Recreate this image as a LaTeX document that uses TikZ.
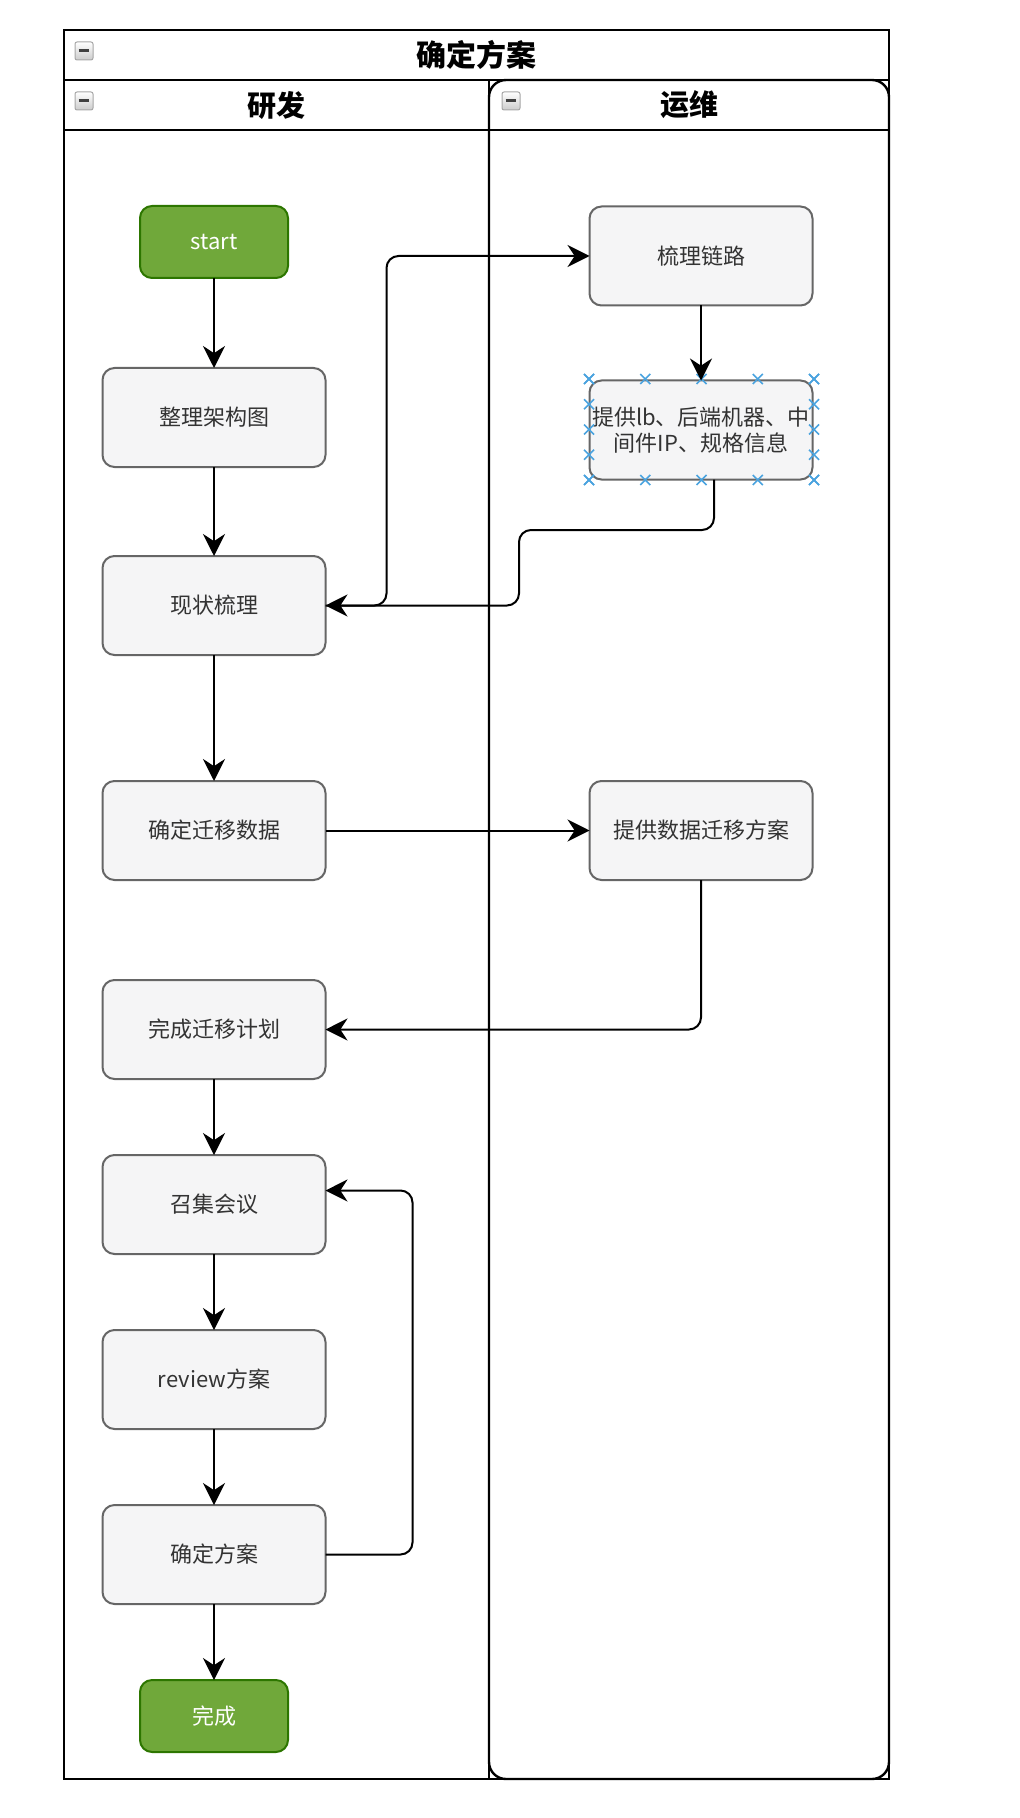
\documentclass[tikz,border=0pt]{standalone}
\usepackage{fontspec}
\setmainfont{Noto Sans CJK SC}
\usetikzlibrary{arrows.meta, positioning}
\definecolor{boxgray}{RGB}{245,245,246}
\definecolor{edgegray}{RGB}{102,102,102}
\definecolor{textgray}{RGB}{51,51,51}
\definecolor{startgreen}{RGB}{112,168,58}
\definecolor{startdark}{RGB}{45,118,0}
\definecolor{selblue}{RGB}{74,163,223}

\begin{document}
\begin{tikzpicture}[x=0.5pt, y=-0.5pt, node distance=45pt,
    task/.style={draw=edgegray, line width=1pt, rounded corners=6pt, fill=boxgray,
                 minimum width=111.5pt, minimum height=49.5pt, align=center,
                 inner sep=1pt, outer sep=0pt, text=textgray,
                 font=\fontsize{11}{13}\selectfont},
    term/.style={draw=startdark, line width=1pt, rounded corners=6pt, fill=startgreen,
                 minimum width=74pt, minimum height=36pt, outer sep=0pt, text=white,
                 font=\fontsize{11}{13}\selectfont},
    arr/.style={-{Stealth[length=11pt, width=11pt]}, line width=1pt, rounded corners=6pt},
    lane/.style={line width=1.2pt},
    hdr/.style={font=\fontsize{14.5}{16}\selectfont\bfseries},
    mini/.style={draw=gray!70, line width=0.5pt, rounded corners=1pt,
                 top color=white, bottom color=gray!40,
                 minimum size=9pt, inner sep=0pt,
                 path picture={\draw[line width=1.5pt, black!75]
                   ([xshift=1.8pt]path picture bounding box.west) --
                   ([xshift=-1.8pt]path picture bounding box.east);}}]
    \useasboundingbox (0,0) rectangle (1020,1818);

    \draw[lane] (64,30) rectangle (889,1779);
    \draw[lane] (64,80) -- (889,80);
    \draw[lane] (64,130) -- (889,130);
    \draw[lane] (489,80) -- (489,1779);
    \draw[lane, rounded corners=8.5pt] (489,80) rectangle (889,1779);

    \node[font=\fontsize{15}{17}\selectfont\bfseries] (pool) at (476,55) {确定方案};
    \node[hdr] (dev) at (276,105) {研发};
    \node[hdr] (ops) at (689,105) {运维};
    \node[mini] (m1) at (84,51) {};
    \node[mini] (m2) at (84,101) {};
    \node[mini] (m3) at (511,101) {};

    \node[term] (start) at (214,242) {start};
    \node[task, below=of start] (arch) {整理架构图};
    \node[task, below=44.5pt of arch] (cur) {现状梳理};
    \node[task, below=63pt of cur] (mig) {确定迁移数据};
    \node[task, below=50pt of mig] (sched) {完成迁移计划};
    \node[task, below=38pt of sched] (meet) {召集会议};
    \node[task, below=38pt of meet] (rev) {review方案};
    \node[task, below=38pt of rev] (conf) {确定方案};
    \node[term, below=38pt of conf] (fin) {完成};

    \node[task] (link) at (701,256) {梳理链路};
    \node[task, below=37.5pt of link] (info) {提供lb、后端机器、中\\间件IP、规格信息};
    \node[task, right=132pt of mig] (plan) {提供数据迁移方案};

    \foreach \i in {0,...,4} {
      \foreach \p in {(589+56.25*\i,379), (589+56.25*\i,480),
                      (589,379+25.25*\i), (814,379+25.25*\i)} {
        \draw[selblue, line width=0.8pt] \p +(-2.5pt,-2.5pt) -- +(2.5pt,2.5pt)
                                          \p +(-2.5pt,2.5pt) -- +(2.5pt,-2.5pt);
      }
    }

    \draw[arr] (start)--(arch); \draw[arr] (arch)--(cur);
    \draw[arr] (cur)--(mig);    \draw[arr] (link)--(info);
    \draw[arr] (mig)--(plan);   \draw[arr] (sched)--(meet);
    \draw[arr] (meet)--(rev);   \draw[arr] (rev)--(conf);
    \draw[arr] (conf)--(fin);

    \draw[arr] (cur.east) -- ++(61,0) |- (link.west);
    \coordinate (k1) at (519,530);
    \draw[arr] ([xshift=6.5pt]info.south) |- (k1) |- (cur.east);
    \draw[arr] (plan.south) |- (sched.east);
    \draw[arr] (conf.east) -- ++(87,0) |- ([yshift=7pt]meet.east);
\end{tikzpicture}
\end{document}
